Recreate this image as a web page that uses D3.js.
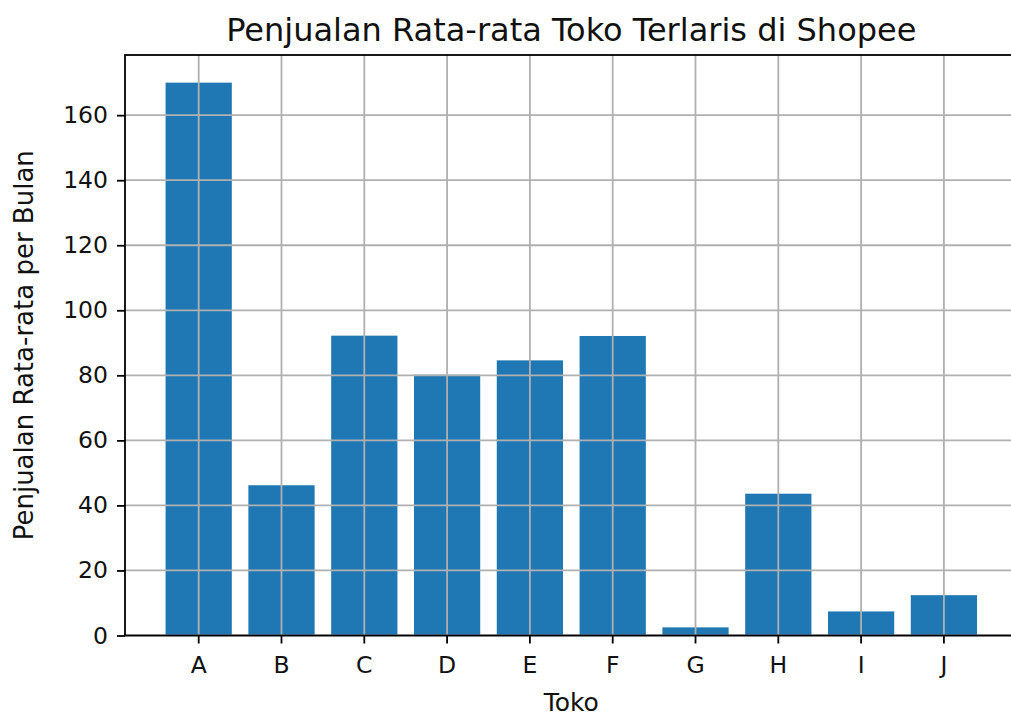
<!DOCTYPE html>
<html>
<head>
<meta charset="utf-8">
<script src="https://cdn.jsdelivr.net/npm/d3@7"></script>
<style>
  body { margin: 0; background: #fff; }
  svg { display: block; font-family: "DejaVu Sans", sans-serif; }
</style>
</head>
<body>
<div id="vis"></div>
<script>
var toko = ["A", "B", "C", "D", "E", "F", "G", "H", "I", "J"];
var penjualan = [170, 46.2, 92.2, 80.2, 84.6, 92.1, 2.5, 43.6, 7.4, 12.4];
var yTicks = [0, 20, 40, 60, 80, 100, 120, 140, 160];

var W = 1011, H = 716;
var m = {left: 125, right: 1017.6, top: 55, bottom: 635.5};

var svg = d3.select("#vis")
    .append("svg")
    .attr("width", W)
    .attr("height", H);

var x = d3.scaleBand()
    .domain(toko)
    .range([m.left, m.right])
    .paddingInner(0.2)
    .paddingOuter(0.49);

var y = d3.scaleLinear()
    .domain([0, d3.max(penjualan) * 1.05])
    .range([m.bottom, m.top]);

var data = toko.map(function(t, i) { return {toko: t, v: penjualan[i]}; });

// bars
svg.append("g")
  .selectAll("rect")
    .data(data)
    .enter()
    .append("rect")
    .attr("x", function(d) { return x(d.toko); })
    .attr("y", function(d) { return y(d.v); })
    .attr("width", x.bandwidth())
    .attr("height", function(d) { return y(0) - y(d.v); })
    .attr("fill", "#1f77b4");

// grid (drawn over the bars like matplotlib)
var grid = svg.append("g").attr("stroke", "#b0b0b0").attr("stroke-width", 1.8);
grid.selectAll(".gx")
    .data(toko)
    .enter()
    .append("line")
    .attr("x1", function(d) { return x(d) + x.bandwidth() / 2; })
    .attr("x2", function(d) { return x(d) + x.bandwidth() / 2; })
    .attr("y1", m.top)
    .attr("y2", m.bottom);
grid.selectAll(".gy")
    .data(yTicks)
    .enter()
    .append("line")
    .attr("x1", m.left)
    .attr("x2", m.right)
    .attr("y1", function(d) { return y(d); })
    .attr("y2", function(d) { return y(d); });

// axes
var xAxis = svg.append("g")
    .attr("transform", "translate(0," + m.bottom + ")")
    .call(d3.axisBottom(x).tickSizeOuter(0).tickSize(8).tickPadding(12));
var yAxis = svg.append("g")
    .attr("transform", "translate(" + m.left + ",0)")
    .call(d3.axisLeft(y).tickValues(yTicks).tickSizeOuter(0).tickSize(8).tickPadding(9));

[xAxis, yAxis].forEach(function(a) {
  a.select(".domain").remove();
  a.selectAll(".tick line").attr("stroke", "#000").attr("stroke-width", 1.8);
  a.selectAll(".tick text")
    .attr("fill", "#111")
    .style("font-family", "DejaVu Sans")
    .style("font-size", "23.5px");
});
xAxis.selectAll(".tick text").attr("dy", "0.75em");

// spines
svg.append("rect")
    .attr("x", m.left)
    .attr("y", m.top)
    .attr("width", m.right - m.left)
    .attr("height", m.bottom - m.top)
    .attr("fill", "none")
    .attr("stroke", "#000")
    .attr("stroke-width", 1.8);

// title and labels
svg.append("text")
    .attr("x", (m.left + m.right) / 2)
    .attr("y", 41)
    .attr("text-anchor", "middle")
    .attr("fill", "#111")
    .style("font-size", "32px")
    .text("Penjualan Rata-rata Toko Terlaris di Shopee");

svg.append("text")
    .attr("x", (m.left + m.right) / 2)
    .attr("y", 711)
    .attr("text-anchor", "middle")
    .attr("fill", "#111")
    .style("font-size", "25px")
    .text("Toko");

svg.append("text")
    .attr("transform", "translate(33," + (m.top + m.bottom) / 2 + ") rotate(-90)")
    .attr("text-anchor", "middle")
    .attr("fill", "#111")
    .style("font-size", "26px")
    .text("Penjualan Rata-rata per Bulan");
</script>
</body>
</html>
